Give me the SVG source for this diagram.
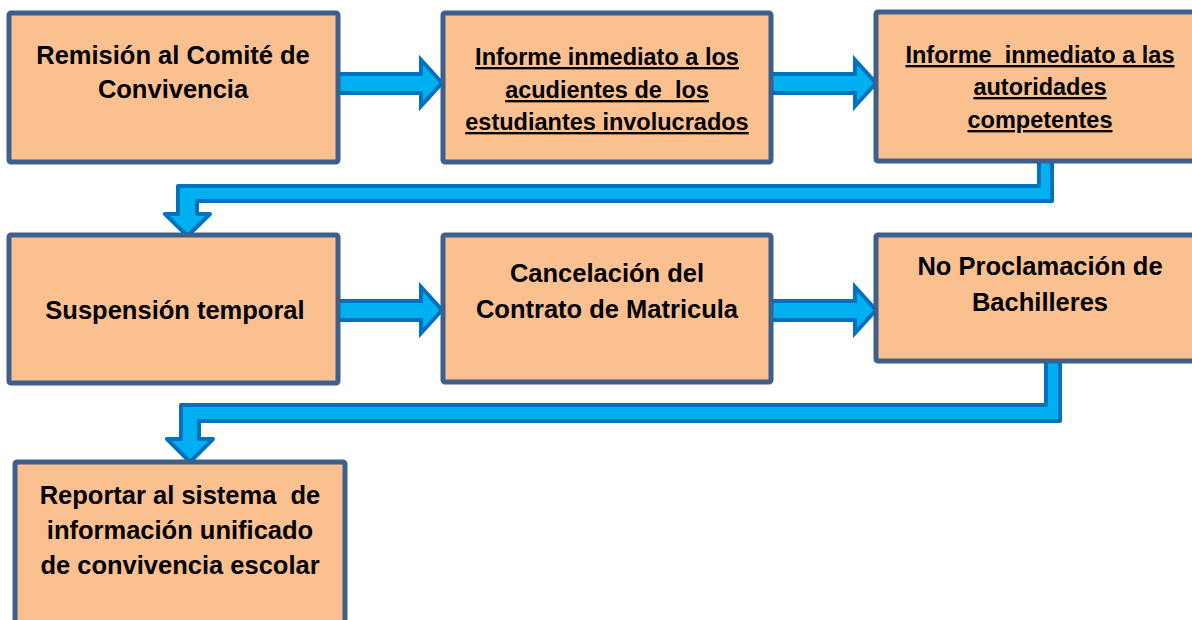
<svg xmlns="http://www.w3.org/2000/svg" width="1192" height="620" viewBox="0 0 1192 620">
<style>
.box{fill:#FAC090;stroke:#3D5F8C;stroke-width:5;}
.conn{fill:#00B0F0;stroke:#0070C0;stroke-width:4;stroke-linejoin:round;}
.harrow{fill:#00B0F0;stroke:#0070C0;stroke-width:4;stroke-linejoin:miter;}
text{font-family:"Liberation Sans",Arial,sans-serif;font-weight:bold;font-size:25.5px;fill:#000;text-anchor:middle;}
.u{text-decoration:underline;font-size:23.5px;}
</style>
<rect width="1192" height="620" fill="#fff"/>
<g id="connectors">
<polygon class="harrow" points="336,74 421,74 421,60 442,83 421,106 421,93 336,93"/>
<polygon class="harrow" points="769,74 855,74 855,60 876,83 855,106 855,93 769,93"/>
<polygon class="harrow" points="336,301 421,301 421,287 442,310 421,333 421,320 336,320"/>
<polygon class="harrow" points="769,301 855,301 855,287 876,310 855,333 855,320 769,320"/>
<polygon class="conn" points="1052,158 1052,201 197,201 197,214 210,214 187.5,236 165,214 178,214 178,186 1039,186 1039,158"/>
<polygon class="conn" points="1060,358 1060,421 199,421 199,439 213,439 190,462 167,439 181,439 181,405 1046,405 1046,358"/>
</g>
<g id="n1"><rect class="box" x="9" y="13" width="329" height="149" rx="2"/>
<text x="173" y="64">Remisión al Comité de</text><text x="173" y="98">Convivencia</text></g>
<g id="n2"><rect class="box" x="443" y="13" width="328" height="149" rx="2"/>
<text class="u" x="607" y="65">Informe inmediato a los</text>
<text class="u" x="607" y="98" xml:space="preserve">acudientes de  los</text>
<text class="u" x="607" y="130">estudiantes involucrados</text></g>
<g id="n3"><rect class="box" x="876" y="12" width="330" height="149" rx="2"/>
<text class="u" x="1040" y="63" xml:space="preserve">Informe  inmediato a las</text>
<text class="u" x="1040" y="95">autoridades</text>
<text class="u" x="1040" y="128">competentes</text></g>
<g id="n4"><rect class="box" x="9" y="235" width="329" height="148" rx="2"/>
<text x="175" y="319">Suspensión temporal</text></g>
<g id="n5"><rect class="box" x="443" y="235" width="328" height="147" rx="2"/>
<text x="607" y="282">Cancelación del</text><text x="607" y="318">Contrato de Matricula</text></g>
<g id="n6"><rect class="box" x="876" y="235" width="330" height="126" rx="2"/>
<text x="1040" y="275">No Proclamación de</text><text x="1040" y="311">Bachilleres</text></g>
<g id="n7"><rect class="box" x="15" y="462" width="330" height="170" rx="2"/>
<text x="180" y="504" xml:space="preserve">Reportar al sistema  de</text>
<text x="180" y="539">información unificado</text>
<text x="180" y="574">de convivencia escolar</text></g>
</svg>
